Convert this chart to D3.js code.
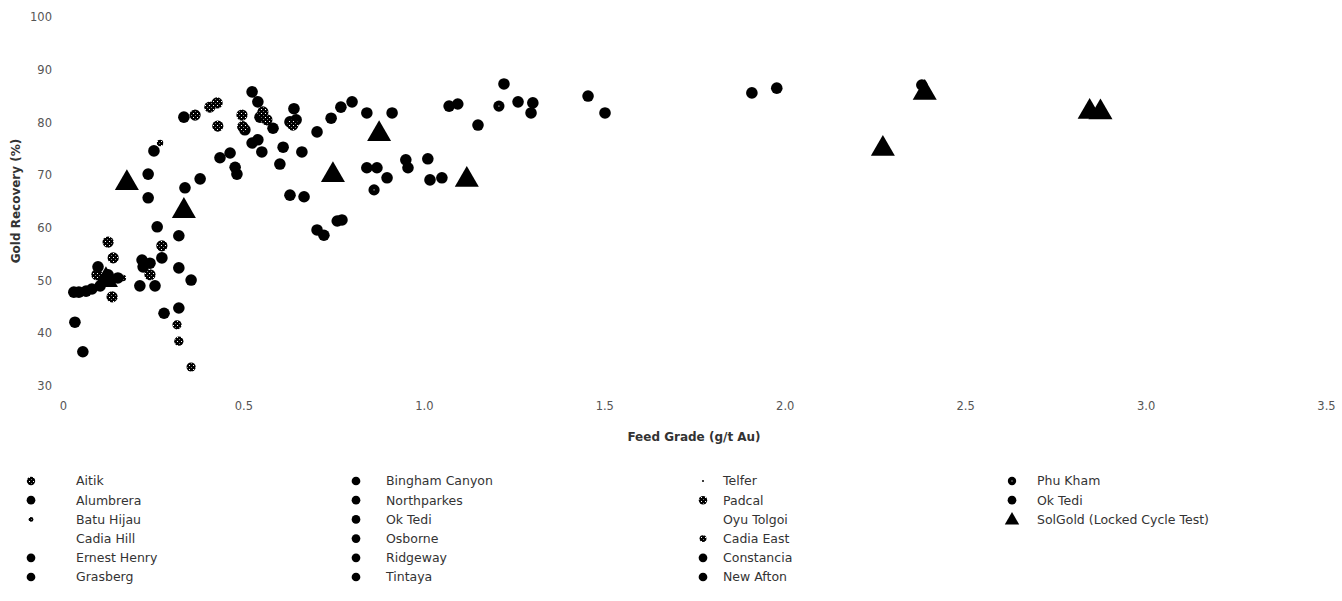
<!DOCTYPE html>
<html>
<head>
<meta charset="utf-8">
<script src="https://cdn.jsdelivr.net/npm/d3@7"></script>
<style>
  html, body { margin: 0; padding: 0; background: #fff; }
  svg { display: block; }
  text { font-family: "DejaVu Sans", sans-serif; }
</style>
</head>
<body>
<svg id="chart" width="1342" height="601"></svg>
<script>
// Feed grade (g/t Au) vs gold recovery (%), per operation
const aitik       = [[0.125,57.3],[0.139,54.3],[0.094,51.1],[0.114,50.3],[0.136,46.9],[0.274,56.6],[0.241,51.1]];
const alumbrera   = [[0.335,81.0],[0.524,85.8],[0.540,83.9],[0.546,81.0],[0.582,78.9],[0.504,78.6]];
const batuHijau   = [[0.269,76.1],[0.166,50.5]];
const cadiaHill   = [];
const ernestHenry = [[0.524,76.1],[0.540,76.7],[0.551,74.4],[0.610,75.3],[0.601,72.1],[0.662,74.4]];
const grasberg    = [[0.640,82.6],[0.629,80.1],[0.646,80.5],[0.704,78.2],[0.743,80.8],[0.770,82.9],[0.801,83.9],[0.842,81.8],[0.912,81.8]];
const bingham     = [[0.435,73.3],[0.463,74.2],[0.477,71.5],[0.482,70.2],[0.236,70.2],[0.236,65.7],[0.252,74.6]];
const northparkes = [[0.338,67.6],[0.380,69.3],[0.261,60.2],[0.321,58.5],[0.355,50.1]];
const okTedi      = [[0.033,42.1],[0.055,36.5],[0.030,47.8],[0.044,47.8],[0.064,48.0],[0.080,48.4],[0.103,49.0],[0.097,52.6],[0.125,51.1],[0.152,50.5]];
const osborne     = [[0.629,66.2],[0.668,65.9],[0.704,59.6],[0.723,58.6],[0.760,61.3],[0.773,61.5]];
const ridgeway    = [[0.842,71.4],[0.870,71.4],[0.898,69.5],[0.950,72.9],[0.956,71.4],[1.011,73.1],[1.017,69.1],[1.050,69.5]];
const tintaya     = [[1.070,83.1],[1.094,83.5],[1.150,79.5],[1.222,87.3],[1.261,83.9],[1.302,83.7],[1.297,81.8]];
const telfer      = [];
const padcal      = [[0.366,81.4],[0.407,82.9],[0.427,83.7],[0.429,79.3],[0.496,81.4],[0.498,79.2],[0.554,82.0],[0.565,80.5],[0.637,79.5]];
const oyuTolgoi   = [];
const cadiaEast   = [[0.316,41.6],[0.321,38.5],[0.355,33.6]];
const constancia  = [[0.213,49.0],[0.255,49.0],[0.219,53.9],[0.241,53.3],[0.222,52.6],[0.274,54.3],[0.321,52.4],[0.280,43.8]];
const newAfton    = [[1.455,85.0],[1.502,81.8],[1.909,85.6],[1.978,86.5],[2.380,87.1]];
const phuKham     = [[1.208,83.1],[0.862,67.2]];
const okTedi2     = [[0.321,44.8]];
const solGold     = [[0.177,68.5],[0.119,50.1],[0.335,63.2],[0.748,70.0],[0.876,77.8],[1.119,69.1],[2.272,75.0],[2.388,85.6],[2.845,82.0],[2.875,81.9]];

const seriesNames = ["Aitik","Alumbrera","Batu Hijau","Cadia Hill","Ernest Henry","Grasberg",
  "Bingham Canyon","Northparkes","Ok Tedi","Osborne","Ridgeway","Tintaya",
  "Telfer","Padcal","Oyu Tolgoi","Cadia East","Constancia","New Afton",
  "Phu Kham","Ok Tedi","SolGold (Locked Cycle Test)"];
const seriesData = [aitik, alumbrera, batuHijau, cadiaHill, ernestHenry, grasberg,
  bingham, northparkes, okTedi, osborne, ridgeway, tintaya,
  telfer, padcal, oyuTolgoi, cadiaEast, constancia, newAfton,
  phuKham, okTedi2, solGold];
// marker style per series: circle, speckled, small speckled, tiny, none, dotted circle, triangle
const seriesMarks = ["speckle","circle","smallSpeckle","none","circle","circle",
  "circle","circle","circle","circle","circle","circle",
  "tiny","speckle","none","smallCircle","circle","circle",
  "dotCircle","circle","triangle"];

const xTicks = [0, 0.5, 1.0, 1.5, 2.0, 2.5, 3.0, 3.5];
const xTickLabels = ["0", "0.5", "1.0", "1.5", "2.0", "2.5", "3.0", "3.5"];
const yTicks = [30, 40, 50, 60, 70, 80, 90, 100];

const svg = d3.select("#chart");

// speckled fill used by some markers: black with sparse white pixels
const defs = svg.append("defs");
const pat = defs.append("pattern").attr("id", "speckle")
  .attr("patternUnits", "userSpaceOnUse").attr("width", 4).attr("height", 4);
pat.append("rect").attr("width", 4).attr("height", 4).attr("fill", "#000");
pat.append("rect").attr("x", 1).attr("y", 1).attr("width", 1).attr("height", 1).attr("fill", "#fff");
pat.append("rect").attr("x", 3).attr("y", 3).attr("width", 1).attr("height", 1).attr("fill", "#777");

const x = d3.scaleLinear().domain([0, 3.5]).range([63, 1326]);
const y = d3.scaleLinear().domain([30, 100]).range([386, 17]);

const xAxis = d3.axisBottom(x).tickValues(xTicks)
  .tickFormat((d, i) => xTickLabels[i]).tickSize(0).tickPadding(16);
const yAxis = d3.axisLeft(y).tickValues(yTicks).tickSize(0).tickPadding(11);

const gx = svg.append("g").attr("transform", "translate(0,386)").call(xAxis);
const gy = svg.append("g").attr("transform", "translate(63,0)").call(yAxis);
[gx, gy].forEach(g => {
  g.select(".domain").remove();
  g.selectAll("text").attr("font-family", "DejaVu Sans, sans-serif")
    .attr("font-size", 11.5).attr("fill", "#555");
});

svg.append("text").attr("x", 694).attr("y", 441).attr("text-anchor", "middle")
  .attr("font-size", 12).attr("font-weight", "bold").attr("fill", "#333")
  .text("Feed Grade (g/t Au)");
svg.append("text").attr("transform", "translate(20,201) rotate(-90)")
  .attr("text-anchor", "middle").attr("font-size", 12).attr("font-weight", "bold").attr("fill", "#333")
  .text("Gold Recovery (%)");

function drawMark(g, kind, cx, cy, scale, triScale) {
  if (kind === "none") return;
  if (kind === "triangle") {
    g.append("path").attr("d", d3.symbol().type(d3.symbolTriangle).size(250 * triScale * triScale)())
      .attr("transform", `translate(${cx},${cy})`).attr("fill", "#000");
    return;
  }
  const r = {circle: 5.8, speckle: 5.6, smallSpeckle: 3.2, tiny: 1, smallCircle: 4.6, dotCircle: 5.6}[kind] * (kind === "tiny" ? 1 : scale);
  const fill = (kind === "speckle" || kind === "smallSpeckle" || kind === "smallCircle") ? "url(#speckle)" : "#000";
  g.append("circle").attr("cx", cx).attr("cy", cy).attr("r", r).attr("fill", fill);
  if (kind === "dotCircle") {
    g.append("rect").attr("x", cx - 0.5).attr("y", cy - 0.5).attr("width", 1).attr("height", 1).attr("fill", "#fff");
  }
}

const plot = svg.append("g");
seriesData.forEach((pts, si) => {
  const g = plot.append("g").attr("class", "series");
  pts.forEach(p => drawMark(g, seriesMarks[si], x(p[0]), y(p[1]), 1, 1));
});

// legend: four columns of six rows
const legendCols = [{m: 31, t: 76}, {m: 356, t: 386}, {m: 703, t: 723}, {m: 1012, t: 1037}];
const legend = svg.append("g");
seriesNames.forEach((name, i) => {
  const col = legendCols[Math.floor(i / 6)];
  const ry = 481 + 19.2 * (i % 6);
  const g = legend.append("g");
  drawMark(g, seriesMarks[i], col.m, seriesMarks[i] === "triangle" ? ry + 1 : ry, 0.75, 0.6);
  g.append("text").attr("x", col.t).attr("y", ry).attr("dy", "0.35em")
    .attr("font-size", 12.5).attr("fill", "#333").text(name);
});
</script>
</body>
</html>
